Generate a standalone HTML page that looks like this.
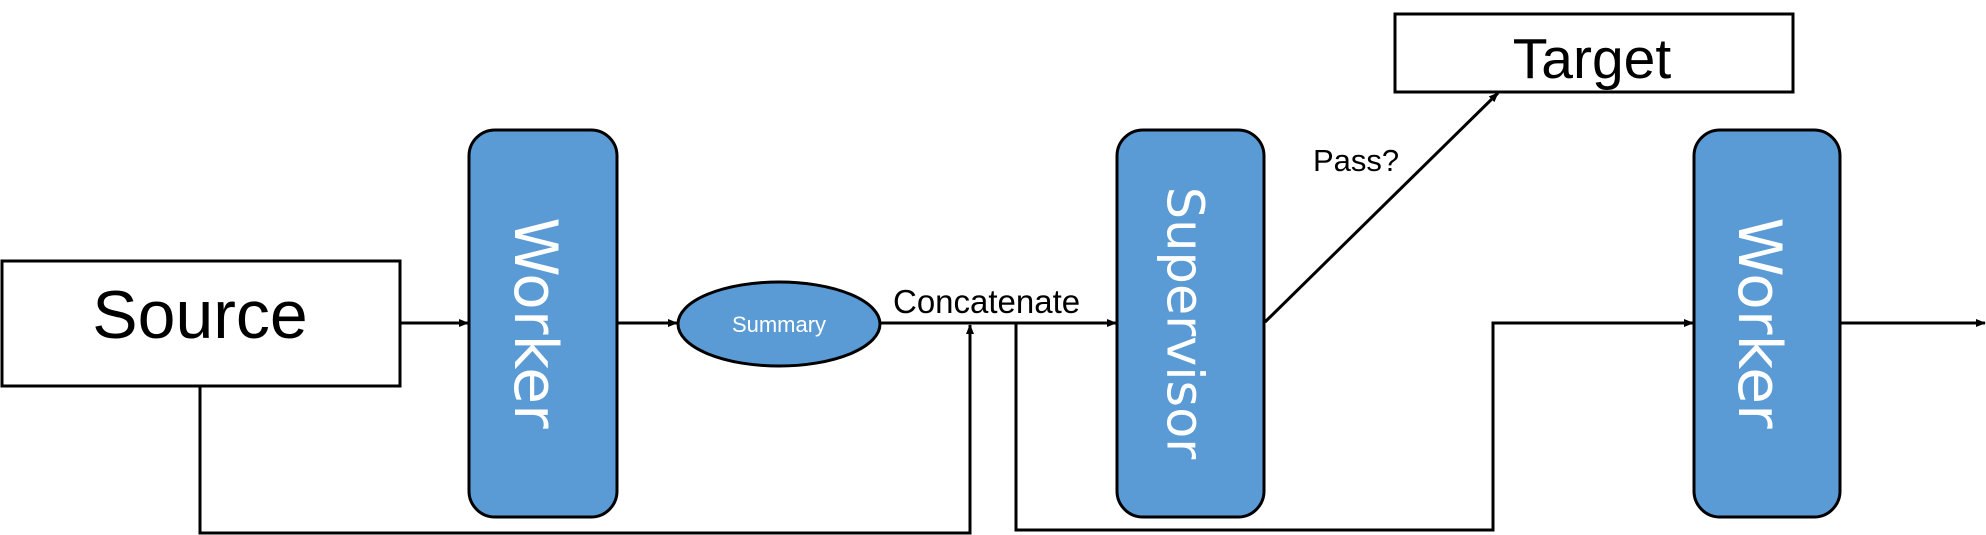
<!DOCTYPE html>
<html><head><meta charset="utf-8"><style>html,body{margin:0;padding:0;background:#fff}svg{display:block}</style></head>
<body>
<svg width="1986" height="535" viewBox="0 0 1986 535" xmlns="http://www.w3.org/2000/svg">
<defs>
<marker id="a" markerWidth="10" markerHeight="8" refX="9" refY="4" orient="auto" markerUnits="userSpaceOnUse">
<path d="M0,0 L10,4 L0,8 Z" fill="#000"/>
</marker>
</defs>
<g stroke="#000" stroke-width="3" fill="none">
<rect x="2" y="261" width="398" height="125" fill="#fff"/>
<rect x="1395" y="14" width="398" height="78" fill="#fff"/>
<rect x="469" y="130" width="148" height="387" rx="26" fill="#5B9BD5"/>
<rect x="1117" y="130" width="147" height="387" rx="26" fill="#5B9BD5"/>
<rect x="1694" y="130" width="146" height="387" rx="26" fill="#5B9BD5"/>
<ellipse cx="779" cy="324" rx="101" ry="42" fill="#5B9BD5"/>
<line x1="400" y1="323" x2="468" y2="323" marker-end="url(#a)"/>
<line x1="617" y1="323" x2="677" y2="323" marker-end="url(#a)"/>
<line x1="880" y1="323" x2="1116" y2="323" marker-end="url(#a)"/>
<polyline points="200,386 200,533 970,533 970,325" marker-end="url(#a)"/>
<polyline points="1016,323 1016,530 1493,530 1493,323 1693,323" marker-end="url(#a)"/>
<line x1="1265" y1="322" x2="1498" y2="93" marker-end="url(#a)"/>
<line x1="1840" y1="323" x2="1985" y2="323" marker-end="url(#a)"/>
</g>
<g font-family="Liberation Sans, sans-serif">
<text x="200" y="338" font-size="68" text-anchor="middle">Source</text>
<text x="1592" y="78" font-size="57" text-anchor="middle">Target</text>
<text x="893" y="313" font-size="33">Concatenate</text>
<text x="1313" y="171" font-size="31">Pass?</text>
<text x="779" y="332" font-size="22" fill="#fff" text-anchor="middle">Summary</text>
</g>
<g font-family="DejaVu Sans, sans-serif" fill="#fff">
<text transform="translate(535,323) rotate(90)" font-size="60" text-anchor="middle" dominant-baseline="central">Worker</text>
<text transform="translate(1184,323) rotate(90)" font-size="51" text-anchor="middle" dominant-baseline="central">Supervisor</text>
<text transform="translate(1759,323) rotate(90)" font-size="60" text-anchor="middle" dominant-baseline="central">Worker</text>
</g>
</svg>
</body></html>
